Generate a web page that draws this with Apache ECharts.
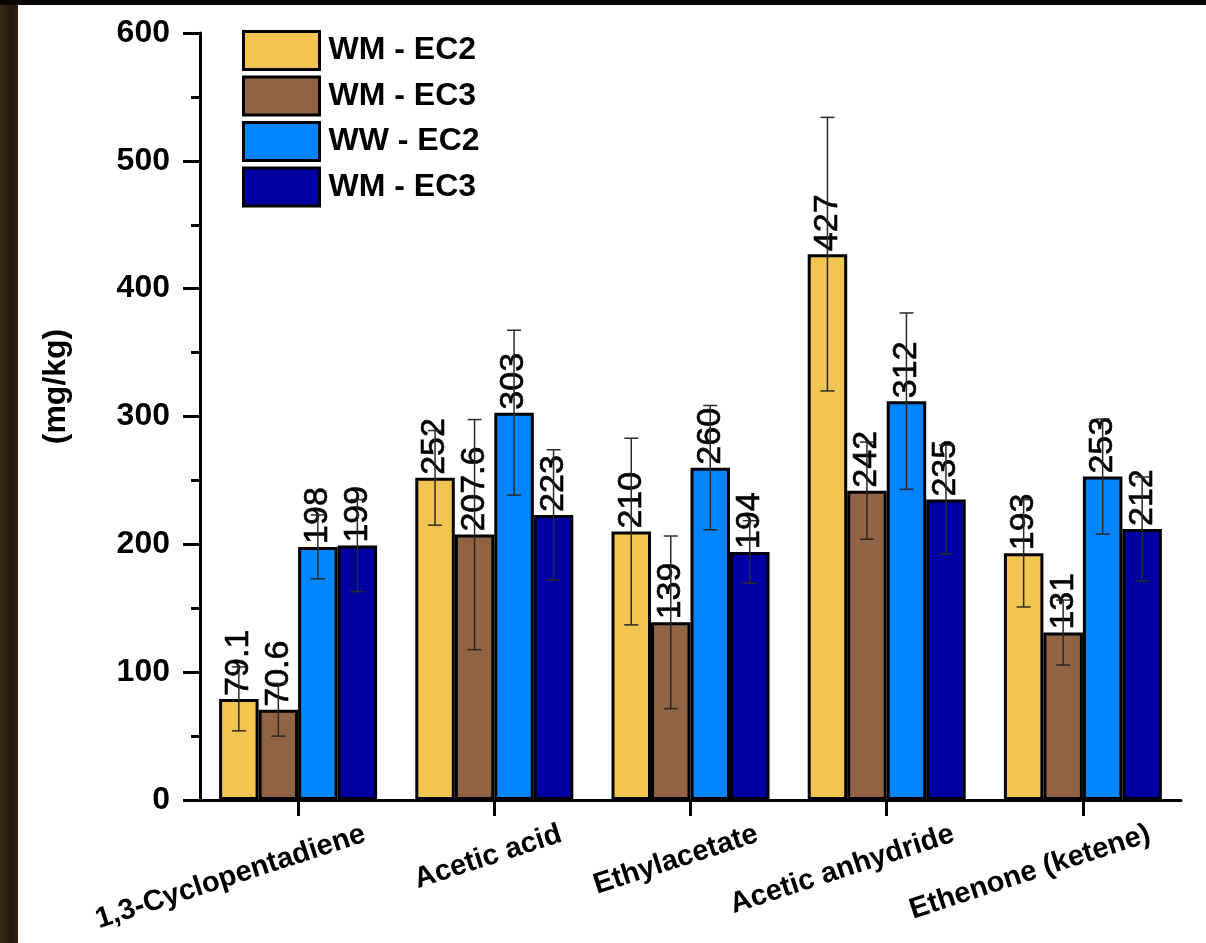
<!DOCTYPE html>
<html>
<head>
<meta charset="utf-8">
<script src="https://cdn.jsdelivr.net/npm/echarts@6/dist/echarts.min.js"></script>
<style>
  html, body { margin: 0; padding: 0; width: 1206px; height: 943px; overflow: hidden; }
  body { background: #0b0705; position: relative; }
  #edge { position: absolute; left: 0; top: 5px; width: 18px; height: 938px;
          background: linear-gradient(to right, #3a2a1a, #24190f 60%, #302214); }
  #chart { position: absolute; left: 18px; top: 5px; width: 1188px; height: 938px; background: #ffffff; }
</style>
</head>
<body>
<div id="edge"></div>
<div id="chart"></div>
<script>
// Compounds on the category axis
const categories = ['1,3-Cyclopentadiene', 'Acetic acid', 'Ethylacetate', 'Acetic anhydride', 'Ethenone (ketene)'];

// Series names (the fourth one carries a trailing space so the legend keeps it as its own entry)
const seriesNames = ['WM - EC2', 'WM - EC3', 'WW - EC2', 'WM - EC3 '];

// Mean yields, mg/kg
const wmEc2 = [79.1, 252, 210, 427, 193];
const wmEc3 = [70.6, 207.6, 139, 242, 131];
const wwEc2 = [198, 303, 260, 312, 253];
const wmEc3b = [199, 223, 194, 235, 212];

// Error bar half-widths (±), mg/kg
const errWmEc2 = [25, 37, 73, 107, 42];
const errWmEc3 = [20.6, 90, 67.5, 38, 25.4];
const errWwEc2 = [25, 64.5, 48.6, 69, 45];
const errWmEc3b = [36, 51, 24.5, 42.6, 40.7];

// Y axis ticks
const yMin = 0, yMax = 600, yStep = 100;

const colors = ['#F2C452', '#8F6344', '#0084FF', '#0000A2'];
const values = [wmEc2, wmEc3, wwEc2, wmEc3b];
const errors = [errWmEc2, errWmEc3, errWwEc2, errWmEc3b];

const BAR_W = 39.5;
const CAP_W = 14;
const font = 'Liberation Sans, Arial, sans-serif';

const chart = echarts.init(document.getElementById('chart'), null, { renderer: 'canvas' });

const barSeries = values.map((vals, s) => ({
  name: seriesNames[s],
  type: 'bar',
  data: vals,
  barWidth: BAR_W,
  barGap: '0%',
  itemStyle: { color: colors[s], borderColor: '#000', borderWidth: 3 },
  label: {
    show: true,
    position: 'top',
    rotate: 90,
    align: 'left',
    verticalAlign: 'middle',
    distance: 3,
    color: '#000',
    fontFamily: font,
    fontSize: 34,
    textBorderColor: '#000',
    textBorderWidth: 0.6
  },
  z: 2
}));

// Error bars: [category index, low, high, series index]
const errData = [];
values.forEach((vals, s) => {
  vals.forEach((v, i) => {
    errData.push([i, v - errors[s][i], v + errors[s][i], s]);
  });
});

function renderError(params, api) {
  const cat = api.value(0);
  const s = api.value(3);
  const base = api.coord([cat, 0]);
  const x = base[0] + (s - 1.5) * BAR_W;
  const yLow = api.coord([cat, api.value(1)])[1];
  const yHigh = api.coord([cat, api.value(2)])[1];
  const style = { stroke: '#2a2a2a', lineWidth: 1.5 };
  return {
    type: 'group',
    children: [
      { type: 'line', shape: { x1: x, y1: yLow, x2: x, y2: yHigh }, style },
      { type: 'line', shape: { x1: x - CAP_W / 2, y1: yHigh, x2: x + CAP_W / 2, y2: yHigh }, style },
      { type: 'line', shape: { x1: x - CAP_W / 2, y1: yLow, x2: x + CAP_W / 2, y2: yLow }, style }
    ]
  };
}

chart.setOption({
  animation: false,
  backgroundColor: '#ffffff',
  grid: { left: 182, right: 25, top: 28, bottom: 143, containLabel: false, outerBoundsMode: 'none' },
  legend: {
    data: seriesNames,
    orient: 'vertical',
    left: 219,
    top: 20,
    itemWidth: 76,
    itemHeight: 38,
    itemGap: 4.5,
    icon: 'rect',
    itemStyle: { borderColor: '#000', borderWidth: 3 },
    textStyle: { fontFamily: font, fontSize: 32, fontWeight: 'bold', color: '#000', padding: [0, 0, 0, 4] },
    selectedMode: false
  },
  xAxis: {
    type: 'category',
    data: categories,
    boundaryGap: true,
    axisLine: { lineStyle: { color: '#000', width: 3 } },
    axisTick: { show: true, alignWithLabel: true, length: 16, lineStyle: { color: '#000', width: 3 } },
    axisLabel: {
      interval: 0,
      rotate: 18,
      margin: 55,
      color: '#000',
      fontFamily: font,
      fontSize: 29,
      fontWeight: 'bold',
      padding: [0, -70, 0, 0]
    },
    splitLine: { show: false }
  },
  yAxis: {
    type: 'value',
    min: yMin,
    max: yMax,
    interval: yStep,
    name: '(mg/kg)',
    nameLocation: 'middle',
    nameGap: 128,
    nameTextStyle: { fontFamily: font, fontSize: 32, fontWeight: 'bold', color: '#000', padding: [0, 0, 0, 60] },
    axisLine: { show: true, lineStyle: { color: '#000', width: 3 } },
    axisTick: { show: true, inside: false, length: 17, lineStyle: { color: '#000', width: 3 } },
    minorTick: { show: true, splitNumber: 2, length: 9, lineStyle: { color: '#000', width: 3 } },
    axisLabel: { margin: 30, color: '#000', fontFamily: font, fontSize: 32, fontWeight: 'bold' },
    splitLine: { show: false }
  },
  series: [
    ...barSeries,
    {
      name: 'error',
      type: 'custom',
      renderItem: renderError,
      data: errData,
      encode: { x: 0, y: [1, 2] },
      silent: true,
      z: 10
    }
  ]
});
</script>
</body>
</html>
